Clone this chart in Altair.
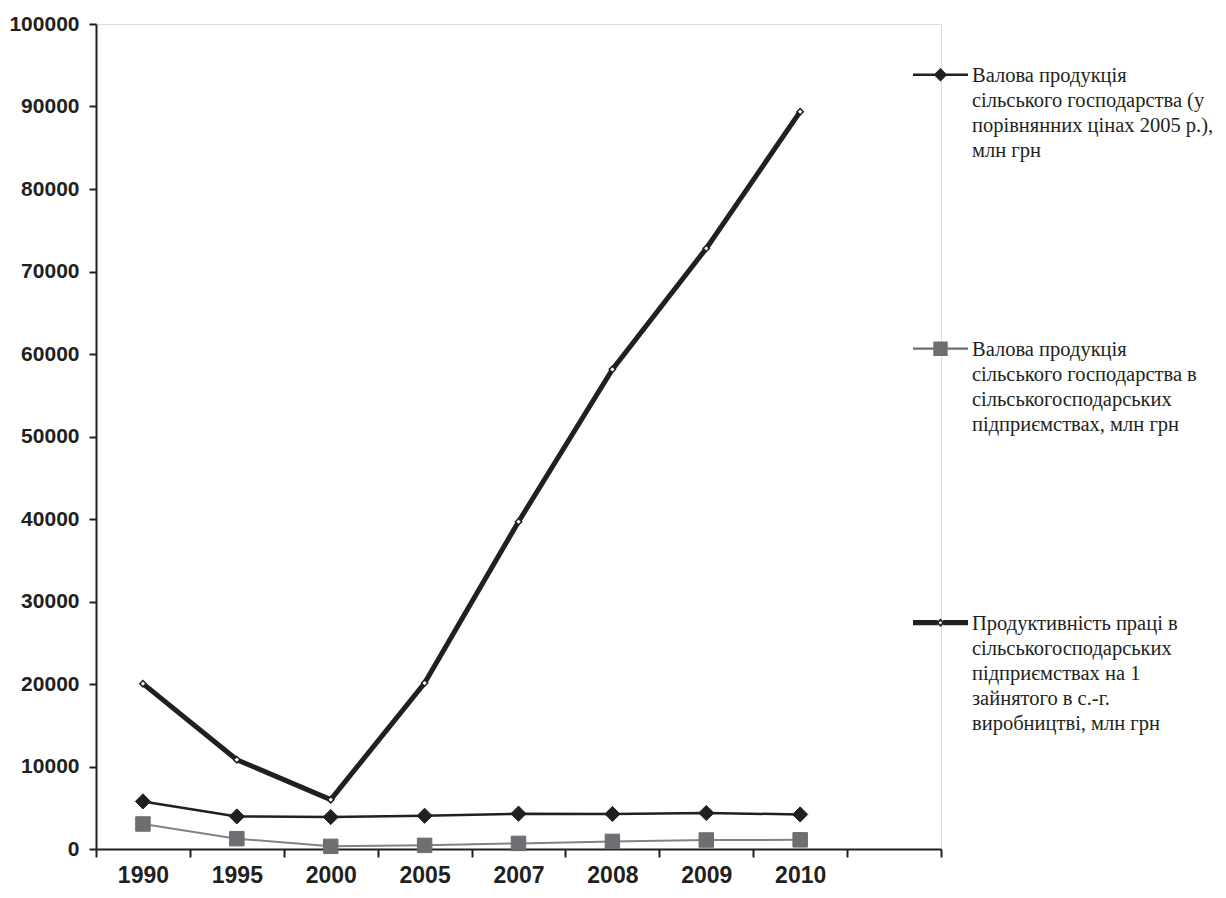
import altair as alt
import pandas as pd

# ---------------- data ----------------
years = ["1990", "1995", "2000", "2005", "2007", "2008", "2009", "2010"]
gross_output = [5770, 3950, 3870, 4030, 4280, 4240, 4360, 4190]
enterprise_output = [3030, 1250, 320, 440, 680, 920, 1090, 1110]
labour_productivity = [20040, 10820, 5980, 20120, 39670, 58140, 72800, 89370]

series_labels = [
    "Валова продукція|сільського господарства (у|порівнянних цінах 2005 р.),|млн грн",
    "Валова продукція|сільського господарства в|сільськогосподарських|підприємствах, млн грн",
    "Продуктивність праці в|сільськогосподарських|підприємствах на 1|зайнятого в с.-г.|виробництві, млн грн",
]
y_ticks = [0, 10000, 20000, 30000, 40000, 50000, 60000, 70000, 80000, 90000, 100000]
x_domain = years + [" "]

rows = []
for name, vals in zip(series_labels, [gross_output, enterprise_output, labour_productivity]):
    for yr, v in zip(years, vals):
        rows.append({"year": yr, "series": name, "value": v})
df = pd.DataFrame(rows)

# ---------------- styles ----------------
INK = "#231f20"
GRAY_LINE = "#808285"
GRAY_MARK = "#6d6e71"
SERIF = "Liberation Serif, Times New Roman, Times, serif"

x_axis = alt.Axis(
    title=None, labelAngle=0, tickBand="extent", grid=False,
    labelFont="Liberation Sans", labelFontWeight="bold", labelFontSize=23,
    labelColor=INK, labelPadding=7, tickSize=8, tickWidth=2, tickColor=INK,
    domainColor=INK, domainWidth=2,
)
y_axis = alt.Axis(
    title=None, values=y_ticks, format="d", grid=False,
    labelFont="Liberation Sans", labelFontWeight="bold", labelFontSize=21,
    labelColor=INK, labelPadding=10, tickSize=7, tickWidth=2, tickColor=INK,
    domainColor=INK, domainWidth=2,
)

base = alt.Chart(df).encode(
    x=alt.X("year:O",
            scale=alt.Scale(type="band", domain=x_domain, paddingInner=0, paddingOuter=0),
            bandPosition=0.5, axis=x_axis),
    y=alt.Y("value:Q", scale=alt.Scale(domain=[0, 100000], nice=False), axis=y_axis),
)

line_styles = [
    dict(color=INK, width=2.5),
    dict(color=GRAY_LINE, width=2),
    dict(color=INK, width=5),
]
point_styles = [
    dict(shape="diamond", size=230, fill=INK, stroke=INK, sw=1),
    dict(shape="square", size=210, fill=GRAY_MARK, stroke=GRAY_MARK, sw=1),
    dict(shape="diamond", size=40, fill="#ffffff", stroke=INK, sw=1.5),
]

layers = []
for idx in [2, 0, 1]:
    ls = line_styles[idx]
    layers.append(
        base.transform_filter(alt.FieldEqualPredicate(field="series", equal=series_labels[idx]))
        .mark_line(color=ls["color"], strokeWidth=ls["width"])
    )
for idx in [2, 0, 1]:
    ps = point_styles[idx]
    layers.append(
        base.transform_filter(alt.FieldEqualPredicate(field="series", equal=series_labels[idx]))
        .mark_point(shape=ps["shape"], size=ps["size"], fill=ps["fill"], stroke=ps["stroke"],
                    strokeWidth=ps["sw"], opacity=1, filled=False)
    )

# ---------------- legend symbols (line + marker) as custom paths ----------------
SYM = 55.0           # symbol width in px
K = SYM / 2.0        # px per path unit
DY = -6.8            # vertical shift of symbol relative to label baseline


def u(px):
    return f"{px / K:.4f}"


def rect(x0, x1, y0, y1):
    return f"M{u(x0)},{u(y0 + DY)}H{u(x1)}V{u(y1 + DY)}H{u(x0)}Z"


def diamond(r, ccw=False):
    if not ccw:
        return f"M0,{u(-r + DY)}L{u(r)},{u(DY)}L0,{u(r + DY)}L{u(-r)},{u(DY)}Z"
    return f"M0,{u(-r + DY)}L{u(-r)},{u(DY)}L0,{u(r + DY)}L{u(r)},{u(DY)}Z"


def square(r):
    return f"M{u(-r)},{u(-r + DY)}H{u(r)}V{u(r + DY)}H{u(-r)}Z"


H = SYM / 2
sym_paths = [
    rect(-H, H, -1.2, 1.2) + diamond(6.8),
    rect(-H, H, -1.1, 1.1) + square(7.2),
    rect(-H, -2.8, -2.6, 2.6) + rect(2.8, H, -2.6, 2.6) + diamond(4.3) + diamond(1.8, ccw=True),
]
sym_colors = [INK, GRAY_MARK, INK]

legend = alt.Legend(
    title=None, orient="none", legendX=817, legendY=30, direction="vertical",
    padding=0, rowPadding=167, symbolSize=SYM * SYM, symbolStrokeWidth=0,
    symbolOpacity=1, labelFont=SERIF, labelFontSize=20.5,
    labelColor=INK, labelOffset=4, labelBaseline="alphabetic", labelLimit=600,
    labelExpr="split(datum.label, '|')",
)

legend_layer = base.mark_point(filled=True, opacity=0).encode(
    shape=alt.Shape("series:N", scale=alt.Scale(domain=series_labels, range=sym_paths), legend=legend),
    color=alt.Color("series:N", scale=alt.Scale(domain=series_labels, range=sym_colors), legend=legend),
)
layers.append(legend_layer)

chart = (
    alt.layer(*layers)
    .properties(
        width=845, height=825,
        autosize=alt.AutoSizeParams(type="none"),
        padding={"left": 88, "top": 16, "right": 277, "bottom": 41},
        background="white",
    )
    .configure_view(stroke=None)
    .configure_legend(labelFont=SERIF)
    .configure(style={"guide-label": {"lineHeight": 25}})
)

chart.save("out.html", embed_options={"renderer": "svg", "actions": False})
